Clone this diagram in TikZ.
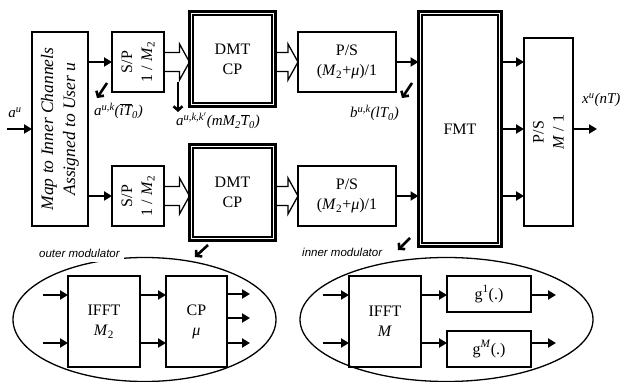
\documentclass[tikz,border=0pt]{standalone}
\usepackage{fontspec}
\setmainfont{Liberation Serif}
\newfontfamily\arialfont{Liberation Sans}
\usetikzlibrary{arrows.meta,calc,shapes.geometric}
\newcommand\widearr[2]{\draw[wide] ($(#1)+(0,-9.5)$) -- ($(#2)+(-10,-9.5)$) -- ($(#2)+(-10,-18)$) -- (#2) -- ($(#2)+(-10,18)$) -- ($(#2)+(-10,9.5)$) -- ($(#1)+(0,9.5)$);}
\newcommand\innerframe[1]{\draw[line width=1.8pt] ($(#1.north west)+(3.5,3.5)$) rectangle ($(#1.south east)+(-3.5,-3.5)$);}
\begin{document}
\begin{tikzpicture}[x=1pt,y=-1pt,
 box/.style={draw,line width=1.3pt,inner sep=0pt,outer sep=0pt,align=center,font=\fontsize{16}{20}\selectfont},
 dbl/.style={box,line width=3pt},
 rtxt/.style={rotate=90,inner sep=0pt,align=center,font=\fontsize{16}{20}\selectfont},
 arr/.style={line width=2.6pt,-{Triangle[length=8pt,width=9pt]}},
 ann/.style={line width=2.6pt,-{Straight Barb[length=4pt,width=9pt]}},
 wide/.style={line width=1.3pt,line join=miter},
 lbl/.style={inner sep=0pt,font=\fontsize{15}{17}\selectfont\itshape},
 modlbl/.style={inner sep=4pt,fill=white,font=\arialfont\itshape\fontsize{11.5}{13}\selectfont},
 ell/.style={draw,ellipse,line width=1.3pt,inner sep=0pt}]
\useasboundingbox (0,0) rectangle (624,382);

% ellipses and their labels
\node[ell,minimum width=263,minimum height=124] (outer) at (144.5,319.5) {};
\node[ell,minimum width=293,minimum height=124] (inner) at (446.5,319.5) {};
\node[modlbl,anchor=base west] (outlbl) at (35,258) {outer modulator};
\node[modlbl,anchor=base west] (inlbl) at (298,257) {inner modulator};

% main chain
\node[box,minimum width=56,minimum height=194] (map) at (60,129) {};
\node[rtxt,font=\fontsize{17.5}{22}\selectfont\itshape] at (map) {Map to Inner Channels\\Assigned to User u};
\node[box,minimum width=52,minimum height=60] (sp1) at (138,62) {};
\node[rtxt] at (sp1) {S/P\\1 / \textit{M}\textsubscript{2}};
\node[box,minimum width=52,minimum height=60] (sp2) at (138,196) {};
\node[rtxt] at (sp2) {S/P\\1 / \textit{M}\textsubscript{2}};
\node[dbl,minimum width=86,minimum height=95] (dmt1) at (232.5,59) {DMT\\CP};
\innerframe{dmt1}
\node[dbl,minimum width=86,minimum height=96] (dmt2) at (232.5,192.5) {DMT\\CP};
\innerframe{dmt2}
\node[box,minimum width=98,minimum height=60] (ps1) at (347,62) {P/S\\(\textit{M}\textsubscript{2}+\textit{μ})/1};
\node[box,minimum width=98,minimum height=60] (ps2) at (347,196) {P/S\\(\textit{M}\textsubscript{2}+\textit{μ})/1};
\node[dbl,minimum width=83,minimum height=235] (fmt) at (460,129) {FMT};
\innerframe{fmt}
\node[box,minimum width=49,minimum height=188] (ps3) at (548.5,132) {};
\node[rtxt] at (ps3) {P/S\\\textit{M} / 1};

% modulators
\node[box,minimum width=72,minimum height=91] (ifftA) at (104,321.5) {IFFT\\\textit{M}\textsubscript{2}};
\node[box,minimum width=61,minimum height=91] (cp) at (196.5,321.5) {CP\\\textit{μ}};
\node[box,minimum width=72,minimum height=91] (ifftB) at (385,321.5) {IFFT\\\textit{M}};
\node[box,minimum width=84,minimum height=36] (g1) at (489,294) {g\textsuperscript{1}(.)};
\node[box,minimum width=84,minimum height=36] (gM) at (489,349) {g\textsuperscript{\textit{M}}(.)};

% connectors main chain
\coordinate (ain) at (7,129);
\draw[arr] (ain) -- (ain -| map.west);
\draw[arr] (map.east |- sp1.west) -- (sp1.west);
\draw[arr] (map.east |- sp2.west) -- (sp2.west);
\coordinate (w1b) at (dmt1.west |- sp1.east);
\coordinate (w2b) at (dmt2.west |- sp2.east);
\coordinate (w3a) at (dmt1.east |- ps1.west);
\coordinate (w4a) at (dmt2.east |- ps2.west);
\widearr{sp1.east}{w1b}
\widearr{sp2.east}{w2b}
\widearr{w3a}{ps1.west}
\widearr{w4a}{ps2.west}
\draw[arr] (ps1.east) -- (fmt.west |- ps1.east);
\draw[arr] (ps2.east) -- (fmt.west |- ps2.east);
\draw[arr] (fmt.east |- ps1.east) -- (ps3.west |- ps1.east);
\draw[arr] (fmt.east) -- (fmt.east -| ps3.west);
\draw[arr] (fmt.east |- ps2.east) -- (ps3.west |- ps2.east);
\coordinate (xout) at (597,129);
\draw[arr] (ps3.east |- xout) -- (xout);

% annotation arrows and labels
\coordinate (a1s) at (107,83); \coordinate (a1e) at (97,98);
\draw[ann] (a1s) -- (a1e);
\coordinate (a2s) at (178,82); \coordinate (a2e) at (178,112);
\draw[ann] (a2s) -- (a2e);
\coordinate (a3s) at (412,83); \coordinate (a3e) at (402,98);
\draw[ann] (a3s) -- (a3e);
\coordinate (a4s) at (208,245); \coordinate (a4e) at (195,257);
\draw[ann] (a4s) -- (a4e);
\coordinate (a5s) at (410,238); \coordinate (a5e) at (398,250);
\draw[ann] (a5s) -- (a5e);

\node[lbl] (lau) at (15,113) {a\textsuperscript{u}};
\node[lbl,anchor=base west] (lak) at (94,116) {a\textsuperscript{u,k}($\overline{\mbox{\itshape iT}}$\textsubscript{0})};
\node[lbl,anchor=base west] (lakk) at (176,126) {a\textsuperscript{u,k,k$'$}(mM\textsubscript{2}$\overline{\mbox{\itshape T}}$\textsubscript{0})};
\node[lbl,anchor=base west] (lb) at (350,118) {b\textsuperscript{u,k}(lT\textsubscript{0})};
\node[lbl,anchor=base west] (lx) at (582,104) {x\textsuperscript{u}(nT)};

% modulator connectors
\coordinate (oi1) at (43,295); \coordinate (oi2) at (43,343);
\draw[arr] (oi1) -- (oi1 -| ifftA.west);
\draw[arr] (oi2) -- (oi2 -| ifftA.west);
\draw[arr] (ifftA.east |- oi1) -- (cp.west |- oi1);
\draw[arr] (ifftA.east |- oi2) -- (cp.west |- oi2);
\coordinate (oo1) at (250,294); \coordinate (oo2) at (250,318); \coordinate (oo3) at (250,343);
\draw[arr] (cp.east |- oo1) -- (oo1);
\draw[arr] (cp.east |- oo2) -- (oo2);
\draw[arr] (cp.east |- oo3) -- (oo3);
\coordinate (ii1) at (323,295); \coordinate (ii2) at (323,343);
\draw[arr] (ii1) -- (ii1 -| ifftB.west);
\draw[arr] (ii2) -- (ii2 -| ifftB.west);
\draw[arr] (ifftB.east |- ii1) -- (g1.west |- ii1);
\draw[arr] (ifftB.east |- ii2) -- (gM.west |- ii2);
\coordinate (io1) at (556,295); \coordinate (io2) at (556,343);
\draw[arr] (g1.east |- io1) -- (io1);
\draw[arr] (gM.east |- io2) -- (io2);
\end{tikzpicture}
\end{document}
